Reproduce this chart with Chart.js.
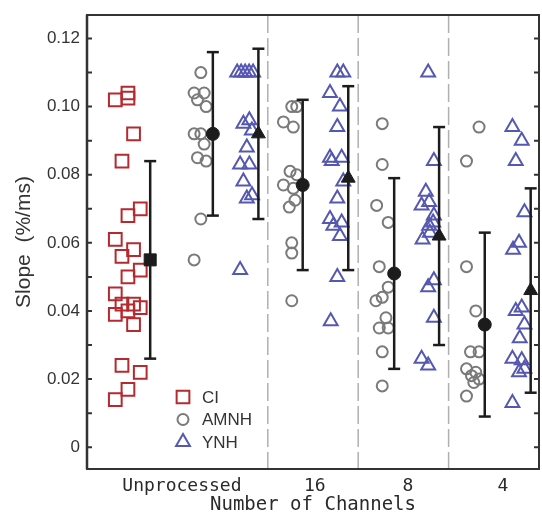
<!DOCTYPE html>
<html>
<head>
<meta charset="utf-8">
<script src="https://cdn.jsdelivr.net/npm/chart.js@4.4.1/dist/chart.umd.min.js"></script>
<style>
  html, body { margin: 0; padding: 0; background: #fff; }
  canvas { display: block; }
</style>
</head>
<body>
<canvas id="graficoSlope" width="542" height="516"></canvas>
<script>
// categorias e onde cada rótulo fica no eixo x (0..5)
const categorias = ['Unprocessed', '16', '8', '4'];
const posRotulos = [1.05, 2.52, 3.55, 4.60];
const divisorias = [2, 3, 4];
const yTicks = [0, 0.02, 0.04, 0.06, 0.08, 0.10, 0.12];

// CI (só Unprocessed)
const ciX = [0.313, 0.453, 0.453, 0.515, 0.387, 0.453, 0.589, 0.313, 0.387, 0.515, 0.589, 0.453,
             0.313, 0.387, 0.515, 0.589, 0.313, 0.453, 0.515, 0.387, 0.589, 0.453, 0.313];
const ciY = [0.102, 0.104, 0.1025, 0.092, 0.084, 0.068, 0.070, 0.061, 0.056, 0.058, 0.052, 0.050,
             0.045, 0.042, 0.042, 0.041, 0.039, 0.040, 0.036, 0.024, 0.022, 0.017, 0.014];

// AMNH
const amnhX = [1.259, 1.185, 1.296, 1.222, 1.318, 1.185, 1.259, 1.296, 1.222, 1.318, 1.259, 1.185,
               2.265, 2.320, 2.173, 2.282, 2.246, 2.320, 2.173, 2.282, 2.301, 2.238, 2.265, 2.265, 2.265,
               3.266, 3.266, 3.204, 3.332, 3.233, 3.332, 3.266, 3.196, 3.307, 3.233, 3.332, 3.266, 3.266,
               4.337, 4.198, 4.198, 4.301, 4.242, 4.337, 4.198, 4.301, 4.253, 4.337, 4.279, 4.198];
const amnhY = [0.110, 0.104, 0.104, 0.102, 0.100, 0.092, 0.092, 0.089, 0.085, 0.084, 0.067, 0.055,
               0.100, 0.100, 0.0955, 0.094, 0.081, 0.080, 0.077, 0.076, 0.0725, 0.0705, 0.060, 0.057, 0.043,
               0.095, 0.083, 0.071, 0.066, 0.053, 0.047, 0.044, 0.043, 0.038, 0.035, 0.035, 0.028, 0.018,
               0.094, 0.084, 0.053, 0.040, 0.028, 0.028, 0.023, 0.022, 0.021, 0.020, 0.019, 0.015];

// YNH
const ynhX = [1.661, 1.705, 1.749, 1.793, 1.837, 1.730, 1.796, 1.824, 1.768, 1.694, 1.796, 1.730, 1.768, 1.826, 1.694,
              2.769, 2.835, 2.688, 2.798, 2.769, 2.688, 2.817, 2.707, 2.835, 2.769, 2.688, 2.817, 2.725, 2.798, 2.769, 2.696,
              3.774, 3.837, 3.748, 3.701, 3.785, 3.837, 3.785, 3.829, 3.712, 3.793, 3.837, 3.774, 3.837, 3.701, 3.774,
              4.706, 4.809, 4.743, 4.839, 4.779, 4.713, 4.743, 4.809, 4.839, 4.787, 4.706, 4.809, 4.779, 4.839, 4.706];
const ynhY = [0.110, 0.110, 0.110, 0.110, 0.110, 0.095, 0.096, 0.093, 0.088, 0.083, 0.083, 0.078, 0.073, 0.074, 0.052,
              0.110, 0.110, 0.104, 0.100, 0.094, 0.085, 0.085, 0.084, 0.078, 0.073, 0.067, 0.066, 0.065, 0.062, 0.050, 0.037,
              0.110, 0.084, 0.075, 0.071, 0.072, 0.068, 0.065, 0.066, 0.061, 0.063, 0.049, 0.047, 0.038, 0.026, 0.024,
              0.094, 0.090, 0.084, 0.069, 0.060, 0.058, 0.040, 0.041, 0.036, 0.032, 0.026, 0.0255, 0.022, 0.023, 0.013];

// médias e barras de erro
const ciMediaX = [0.699];
const ciMedia = [0.055];
const ciMin = [0.026];
const ciMax = [0.084];

const amnhMediaX = [1.392, 2.386, 3.398, 4.400];
const amnhMedia = [0.092, 0.077, 0.051, 0.036];
const amnhMin = [0.068, 0.052, 0.023, 0.009];
const amnhMax = [0.116, 0.102, 0.079, 0.063];

const ynhMediaX = [1.896, 2.890, 3.895, 4.908];
const ynhMedia = [0.092, 0.079, 0.062, 0.046];
const ynhMin = [0.067, 0.052, 0.030, 0.016];
const ynhMax = [0.117, 0.106, 0.094, 0.076];

const corCI = '#b5292f';
const corAMNH = '#7a7a7a';
const corYNH = '#5558b0';
const corMedia = '#1c1c1c';
const vazio = 'rgba(0,0,0,0)';

const pontos = (xs, ys) => xs.map((x, i) => ({ x, y: ys[i] }));

function grupo(label, xs, ys, estilo, raio, cor) {
  return {
    label, type: 'scatter', data: pontos(xs, ys), order: 3,
    pointStyle: estilo, pointRadius: raio, pointBorderWidth: 2,
    pointBorderColor: cor, pointBackgroundColor: vazio
  };
}

function media(xs, ys, estilo, raio) {
  return {
    label: 'media', type: 'scatter', data: pontos(xs, ys), order: 1,
    pointStyle: estilo, pointRadius: raio, pointBorderWidth: 1,
    pointBorderColor: corMedia, pointBackgroundColor: corMedia
  };
}

function barras(xs, mins, maxs) {
  return xs.map((x, i) => ({
    label: 'erro', type: 'line', data: [{ x, y: mins[i] }, { x, y: maxs[i] }], order: 2,
    borderColor: corMedia, borderWidth: 2.5, showLine: true, fill: false,
    pointStyle: 'line', pointRadius: 6, pointBorderWidth: 2.5, pointBorderColor: corMedia
  }));
}

const conjuntos = [
  grupo('CI', ciX, ciY, 'rect', 9, corCI),
  grupo('AMNH', amnhX, amnhY, 'circle', 5.5, corAMNH),
  grupo('YNH', ynhX, ynhY, 'triangle', 8, corYNH),
  ...barras(ciMediaX, ciMin, ciMax),
  ...barras(amnhMediaX, amnhMin, amnhMax),
  ...barras(ynhMediaX, ynhMin, ynhMax),
  media(ciMediaX, ciMedia, 'rect', 8.5),
  media(amnhMediaX, amnhMedia, 'circle', 6.5),
  media(ynhMediaX, ynhMedia, 'triangle', 8)
];

// moldura, tracejados, ticks internos e legenda
const molduraPlugin = {
  id: 'moldura',
  beforeDatasetsDraw(chart) {
    const { ctx, chartArea: a, scales: { x } } = chart;
    ctx.save();
    ctx.strokeStyle = '#b0b0b0';
    ctx.lineWidth = 1.5;
    ctx.setLineDash([18, 5]);
    divisorias.forEach(v => {
      const px = x.getPixelForValue(v);
      ctx.beginPath();
      ctx.moveTo(px, a.top);
      ctx.lineTo(px, a.bottom);
      ctx.stroke();
    });
    ctx.restore();
  },
  afterDatasetsDraw(chart) {
    const { ctx, chartArea: a, scales: { y } } = chart;
    ctx.save();
    ctx.strokeStyle = '#333';
    ctx.lineWidth = 2;
    ctx.strokeRect(a.left, a.top, a.right - a.left, a.bottom - a.top);
    ctx.beginPath();
    ctx.lineWidth = 2.5;
    ctx.moveTo(a.left, a.top);
    ctx.lineTo(a.left, a.bottom);
    ctx.stroke();

    // ticks a cada 0.01, para dentro, nos dois lados
    ctx.lineWidth = 2;
    for (let i = 0; i <= 12; i++) {
      const py = y.getPixelForValue(i * 0.01);
      ctx.beginPath();
      ctx.moveTo(a.left, py);
      ctx.lineTo(a.left + 5, py);
      ctx.moveTo(a.right, py);
      ctx.lineTo(a.right - 5, py);
      ctx.stroke();
    }

    // legenda
    const itens = [
      { texto: 'CI', estilo: 'rect', raio: 9, cor: corCI },
      { texto: 'AMNH', estilo: 'circle', raio: 5.5, cor: corAMNH },
      { texto: 'YNH', estilo: 'triangle', raio: 8, cor: corYNH }
    ];
    ctx.font = '17px "Liberation Sans"';
    ctx.textBaseline = 'middle';
    ctx.textAlign = 'left';
    itens.forEach((it, i) => {
      const cy = a.bottom - 72 + i * 22.5;
      ctx.strokeStyle = it.cor;
      ctx.fillStyle = vazio;
      Chart.helpers.drawPoint(ctx, { pointStyle: it.estilo, radius: it.raio, borderWidth: 2 }, a.left + 96, cy);
      ctx.fillStyle = '#333';
      ctx.fillText(it.texto, a.left + 115, cy + 1);
    });
    ctx.restore();
  }
};

new Chart(document.getElementById('graficoSlope'), {
  type: 'scatter',
  data: { datasets: conjuntos },
  options: {
    responsive: false,
    animation: false,
    events: [],
    layout: { autoPadding: false, padding: { top: 15, right: 3, left: 0, bottom: 0 } },
    plugins: { legend: { display: false }, tooltip: { enabled: false } },
    scales: {
      x: {
        type: 'linear', min: 0, max: 5,
        afterBuildTicks: s => { s.ticks = posRotulos.map(v => ({ value: v })); },
        afterFit: s => { s.height = 47; s.paddingLeft = 0; s.paddingRight = 0; },
        grid: { display: false, drawTicks: false },
        border: { display: false },
        ticks: {
          padding: 7, color: '#2a2a2a', autoSkip: false, maxRotation: 0,
          font: { family: 'DejaVu Sans Mono', size: 18 },
          callback: (v, i) => categorias[i]
        },
        title: {
          display: true, text: 'Number of Channels', color: '#2a2a2a',
          font: { family: 'DejaVu Sans Mono', size: 19 }, padding: { top: 0, bottom: 0 }
        }
      },
      y: {
        min: -0.0064, max: 0.1269,
        afterBuildTicks: s => { s.ticks = yTicks.map(v => ({ value: v })); },
        afterFit: s => { s.width = 87; s.paddingTop = 0; s.paddingBottom = 0; },
        grid: { display: false, drawTicks: false },
        border: { display: false },
        ticks: {
          padding: 7, color: '#333',
          font: { family: 'Liberation Sans', size: 17 },
          callback: v => v === 0 ? '0' : v.toFixed(2)
        },
        title: {
          display: true, text: 'Slope  (%/ms)', color: '#333',
          font: { family: 'Liberation Sans', size: 21 }, padding: { top: 12, bottom: 0 }
        }
      }
    }
  },
  plugins: [molduraPlugin]
});
</script>
</body>
</html>
